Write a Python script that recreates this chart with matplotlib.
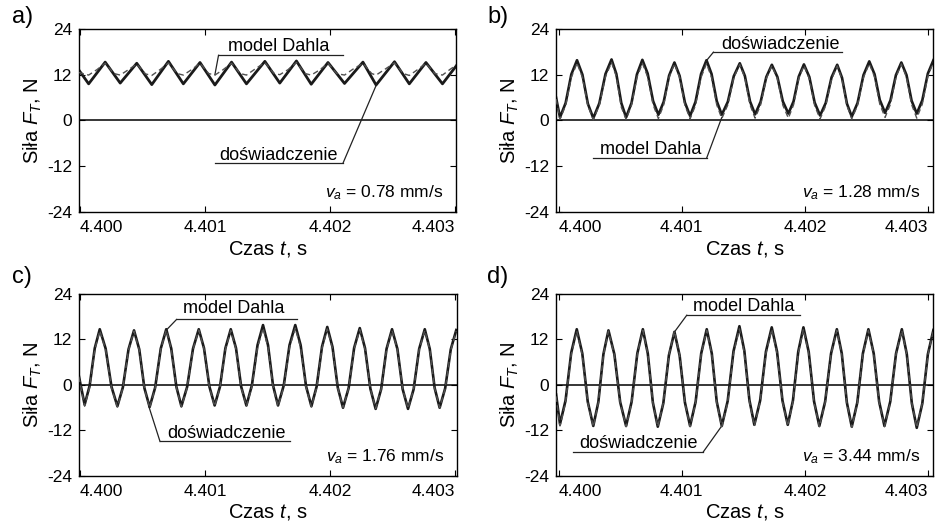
import numpy as np
import matplotlib
matplotlib.use("Agg")
import matplotlib.pyplot as plt

plt.rcParams.update({
    "font.family": "Liberation Sans",
    "font.size": 12.5,
    "mathtext.fontset": "custom",
    "mathtext.rm": "Liberation Sans",
    "mathtext.it": "Liberation Sans:italic",
    "axes.unicode_minus": False,
    "axes.linewidth": 1.0,
    "xtick.direction": "in",
    "ytick.direction": "in",
    "xtick.top": True,
    "ytick.right": True,
    "xtick.major.size": 4,
    "ytick.major.size": 4,
    "xtick.major.pad": 6,
    "ytick.major.pad": 5,
    "xtick.labelsize": 12.5,
    "ytick.labelsize": 12.5,
    "axes.labelsize": 14.5,
})

T0 = 4.400  # s, start of the time window; times below are in microseconds after T0

# ---- a) v_a = 0.78 mm/s ----
t_exp_a = [-10, 72, 204, 324, 456, 576, 709, 828, 961, 1080, 1213, 1332, 1479,
           1598, 1731, 1849, 1983, 2115, 2262, 2367, 2514, 2632, 2765, 2897, 3030]
exp_a = [13.4, 9.6, 15.3, 9.8, 15.0, 9.4, 15.5, 9.6, 15.2, 9.3, 15.3, 9.6, 15.5,
         9.8, 15.6, 9.5, 15.2, 9.7, 15.3, 9.3, 15.4, 9.6, 15.2, 9.6, 15.3]
t_mod_a = [-10, 72, 137, 204, 274, 324, 389, 456, 526, 576, 641, 709, 779, 828,
           893, 961, 1031, 1080, 1145, 1213, 1283, 1332, 1397, 1479, 1549, 1598,
           1663, 1731, 1801, 1849, 1914, 1983, 2053, 2115, 2180, 2262, 2332, 2367,
           2432, 2514, 2584, 2632, 2697, 2765, 2835, 2897, 2962, 3030]
mod_a = [12.6, 11.9, 13.3, 15.0, 12.3, 11.9, 13.3, 14.8, 12.2, 11.8, 13.3, 15.1,
         12.3, 11.9, 13.3, 15.0, 12.3, 11.9, 13.3, 15.0, 12.3, 11.9, 13.4, 15.2,
         12.4, 12.0, 13.3, 15.2, 12.3, 11.9, 13.2, 15.0, 12.3, 11.9, 13.4, 15.0,
         12.3, 11.9, 13.3, 15.1, 12.3, 11.8, 13.3, 15.0, 12.3, 11.9, 13.5, 15.0]

# ---- b) v_a = 1.28 mm/s ----
t_b = [-20, 12, 58, 104, 150, 194, 238, 282, 331, 381, 430, 469, 509, 548, 592,
       636, 680, 723, 767, 810, 853, 897, 940, 982, 1025, 1067, 1111, 1156, 1200,
       1241, 1283, 1324, 1373, 1421, 1470, 1511, 1553, 1594, 1639, 1685, 1730,
       1775, 1819, 1864, 1906, 1948, 1990, 2034, 2077, 2121, 2167, 2214, 2260,
       2299, 2339, 2378, 2425, 2473, 2520, 2563, 2605, 2648, 2692, 2736, 2780,
       2822, 2863, 2905, 2950, 2995, 3040]
exp_b = [6.0, 0.8, 4.6, 12.1, 15.8, 12.0, 4.4, 0.6, 4.5, 12.2, 16.0, 12.2, 4.6,
         0.8, 4.6, 12.1, 15.9, 12.3, 5.1, 1.5, 4.9, 11.8, 15.2, 11.7, 4.7, 1.2,
         4.9, 12.2, 15.8, 12.2, 5.1, 1.5, 4.9, 11.6, 15.0, 11.7, 5.0, 1.6, 4.9,
         11.4, 14.6, 11.4, 5.0, 1.8, 5.0, 11.5, 14.7, 11.4, 4.7, 1.3, 4.6, 11.3,
         14.6, 11.2, 4.4, 1.0, 4.6, 11.9, 15.5, 12.1, 5.4, 2.0, 5.3, 11.9, 15.2,
         11.9, 5.2, 1.8, 5.3, 12.3, 15.8]
mod_b = [5.6, 0.3, 4.0, 11.3, 15.0, 11.3, 3.9, 0.2, 4.0, 11.5, 15.2, 11.5, 3.5,
         0.3, 4.0, 11.3, 15.0, 11.4, 4.1, 0.5, 4.1, 11.3, 14.9, 11.3, 4.0, 0.4,
         4.0, 11.3, 14.9, 11.3, 4.1, 0.5, 4.1, 11.2, 14.7, 11.2, 4.1, 0.6, 4.1,
         11.0, 14.4, 11.0, 4.0, 0.6, 4.1, 11.0, 14.4, 10.9, 3.9, 0.4, 3.9, 10.8,
         14.3, 10.8, 3.9, 0.4, 4.0, 11.3, 14.9, 11.4, 4.3, 0.8, 4.3, 11.3, 14.8,
         11.3, 4.2, 0.6, 4.3, 11.6, 15.3]

# ---- c) v_a = 1.76 mm/s ----
t_c = [-10, 37, 77, 118, 158, 205, 252, 299, 343, 388, 432, 474, 515, 557, 601,
       646, 690, 730, 771, 811, 857, 904, 950, 992, 1035, 1077, 1120, 1163, 1206,
       1248, 1289, 1331, 1375, 1420, 1464, 1504, 1544, 1584, 1630, 1676, 1722,
       1765, 1808, 1851, 1893, 1936, 1978, 2020, 2062, 2104, 2149, 2193, 2238,
       2280, 2323, 2365, 2409, 2452, 2496, 2539, 2581, 2624, 2669, 2713, 2758,
       2798, 2837, 2877, 2921, 2966, 3010]
exp_c = [2.5, -5.2, -0.2, 9.7, 14.7, 9.6, -0.5, -5.6, -0.6, 9.4, 14.4, 9.4, -0.8,
         -5.8, -0.7, 9.6, 14.7, 9.6, -0.5, -5.6, -0.5, 9.6, 14.7, 9.7, -0.4, -5.4,
         -0.4, 9.7, 14.7, 9.7, -0.4, -5.4, -0.1, 10.5, 15.8, 10.5, -0.1, -5.4,
         -0.1, 10.5, 15.8, 10.5, -0.3, -5.6, -0.4, 10.1, 15.3, 10.0, -0.7, -6.0,
         -0.8, 9.8, 15.0, 9.7, -1.0, -6.3, -1.1, 9.5, 14.7, 9.5, -1.1, -6.3, -1.1,
         9.5, 14.7, 9.5, -0.8, -6.0, -0.9, 9.4, 14.5]
mod_c = [2.2, -5.6, -0.6, 9.3, 14.3, 9.3, -0.8, -5.8, -0.8, 9.2, 14.2, 9.2, -1.0,
         -6.0, -0.9, 9.4, 14.5, 9.4, -0.7, -5.8, -0.7, 9.4, 14.5, 9.5, -0.6, -5.6,
         -0.6, 9.4, 14.4, 9.4, -0.6, -5.6, -0.5, 9.9, 15.0, 9.9, -0.5, -5.6, -0.5,
         9.9, 15.0, 9.8, -0.6, -5.8, -0.7, 9.7, 14.8, 9.6, -0.8, -6.0, -0.9, 9.5,
         14.6, 9.4, -1.0, -6.2, -1.1, 9.3, 14.4, 9.3, -1.1, -6.2, -1.1, 9.3, 14.4,
         9.3, -0.9, -6.0, -1.0, 9.2, 14.2]

# ---- d) v_a = 3.44 mm/s ----
t_d = [-20, 12, 57, 103, 148, 193, 237, 282, 323, 364, 405, 453, 500, 548, 593,
       639, 684, 724, 765, 805, 850, 895, 940, 982, 1025, 1067, 1112, 1157, 1202,
       1243, 1283, 1324, 1372, 1419, 1467, 1507, 1548, 1588, 1635, 1682, 1729,
       1772, 1816, 1859, 1901, 1944, 1986, 2029, 2072, 2115, 2162, 2210, 2257,
       2297, 2338, 2378, 2423, 2468, 2513, 2556, 2600, 2643, 2690, 2737, 2784,
       2824, 2865, 2905, 2950, 2995, 3040]
exp_d = [-2.5, -10.3, -4.1, 8.5, 14.7, 8.3, -4.4, -10.8, -4.5, 8.1, 14.4, 8.1,
         -4.5, -10.8, -4.4, 8.3, 14.7, 8.3, -4.6, -11.0, -4.8, 7.8, 14.0, 7.8,
         -4.6, -10.8, -4.4, 8.3, 14.7, 8.3, -4.4, -10.8, -4.2, 8.9, 15.5, 9.0,
         -4.0, -10.5, -4.1, 8.8, 15.2, 8.8, -4.1, -10.5, -4.1, 8.8, 15.2, 8.7,
         -4.3, -10.8, -4.4, 8.3, 14.7, 8.3, -4.6, -11.0, -4.6, 8.3, 14.7, 8.3,
         -4.4, -10.8, -4.4, 8.3, 14.7, 8.2, -4.8, -11.3, -4.9, 8.1, 14.5]
mod_d = [-3.0, -10.8, -4.6, 8.0, 14.2, 7.9, -4.7, -11.0, -4.7, 7.9, 14.2, 7.9,
         -4.7, -11.0, -4.7, 8.1, 14.4, 8.1, -4.7, -11.0, -4.7, 7.9, 14.2, 7.9,
         -4.7, -11.0, -4.7, 8.1, 14.4, 8.1, -4.7, -11.0, -4.6, 8.4, 14.8, 8.4,
         -4.4, -10.8, -4.4, 8.3, 14.7, 8.3, -4.4, -10.8, -4.4, 8.3, 14.7, 8.3,
         -4.6, -11.0, -4.7, 8.1, 14.4, 8.0, -4.8, -11.2, -4.8, 8.0, 14.4, 8.1,
         -4.7, -11.0, -4.7, 8.1, 14.4, 8.0, -4.8, -11.2, -4.8, 7.9, 14.3]

panel_labels = ["a)", "b)", "c)", "d)"]
speeds = ["0.78", "1.28", "1.76", "3.44"]
y_ticks = [-24, -12, 0, 12, 24]
x_ticks = [4.400, 4.401, 4.402, 4.403]
x_ticklabels = ["4.400", "4.401", "4.402", "4.403"]

# callouts: (text, text_x, text_y, line_x0, line_x1, line_y, side, tip_x, tip_y), x in us
callouts = [
    [("model Dahla", 1592, 19.5, 1109, 2104, 17.1, "left", 1080, 12.0),
     ("doświadczenie", 1587, -9.1, 1083, 2104, -11.1, "right", 2370, 9.4)],
    [("doświadczenie", 1797, 19.9, 1256, 2297, 17.9, "left", 1195, 15.5),
     ("model Dahla", 750, -7.6, 282, 1202, -9.8, "right", 1324, 0.8)],
    [("model Dahla", 1227, 20.2, 773, 1733, 17.3, "left", 694, 14.6),
     ("doświadczenie", 1173, -12.7, 640, 1680, -14.9, "left", 550, -5.6)],
    [("model Dahla", 1499, 20.6, 1040, 1959, 18.4, "left", 945, 14.2),
     ("doświadczenie", 648, -15.4, 120, 1175, -17.6, "right", 1324, -10.8)],
]

series = [(t_exp_a, exp_a, t_mod_a, mod_a),
          (t_b, exp_b, t_b, mod_b),
          (t_c, exp_c, t_c, mod_c),
          (t_d, exp_d, t_d, mod_d)]

# axes placement (figure fractions) and x window (us) per panel
rects = [(0.0845, 0.597, 0.4032, 0.348), (0.5947, 0.597, 0.4032, 0.348),
         (0.0845, 0.0951, 0.4043, 0.346), (0.5947, 0.0951, 0.4032, 0.346)]
xwin = [(-5, 3005), (-20, 3037), (-8, 3016), (-20, 3037)]
label_pos = [(0.013, 0.968), (0.521, 0.968), (0.013, 0.474), (0.521, 0.474)]


def us(t):
    return T0 + np.asarray(t, dtype=float) * 1e-6


fig = plt.figure(figsize=(9.35, 5.26), dpi=100)

for i in range(4):
    ax = fig.add_axes(rects[i])
    t_e, v_e, t_m, v_m = series[i]
    ax.axhline(0, color="black", lw=1.1, zorder=1)
    lw_exp = 2.0 if i == 0 else 1.9
    ax.plot(us(t_e), v_e, color="#1a1a1a", lw=lw_exp, zorder=2)
    ax.plot(us(t_m), v_m, color="#505050", lw=1.0, ls=(0, (4, 2.5)), zorder=3)

    ax.set_xlim(us(xwin[i][0]), us(xwin[i][1]))
    ax.set_ylim(-24, 24)
    ax.set_yticks(y_ticks)
    ax.set_xticks(x_ticks)
    ax.set_xticklabels(x_ticklabels)
    xl = ax.get_xticklabels()
    xl[0].set_horizontalalignment("left")
    xl[-1].set_horizontalalignment("right")

    ax.set_xlabel(r"Czas $t$, s")
    ax.set_ylabel(r"Siła $F_T$, N")
    ax.xaxis.set_label_coords(0.5, -0.145)
    ax.yaxis.set_label_coords(-0.092, 0.5)

    for (txt, tx, ty, x0, x1, ly, side, px, py) in callouts[i]:
        ax.text(us(tx), ty, txt, ha="center", va="center", fontsize=13)
        ax.plot(us([x0, x1]), [ly, ly], color="#222222", lw=0.9)
        xs = x0 if side == "left" else x1
        ax.plot(us([xs, px]), [ly, py], color="#222222", lw=0.9)

    ax.text(0.966, 0.104, r"$v_a$ = " + speeds[i] + " mm/s", transform=ax.transAxes,
            ha="right", va="center", fontsize=12.5)

    fig.text(label_pos[i][0], label_pos[i][1], panel_labels[i], fontsize=17,
             ha="left", va="center")

fig.savefig("out.png", dpi=100)
